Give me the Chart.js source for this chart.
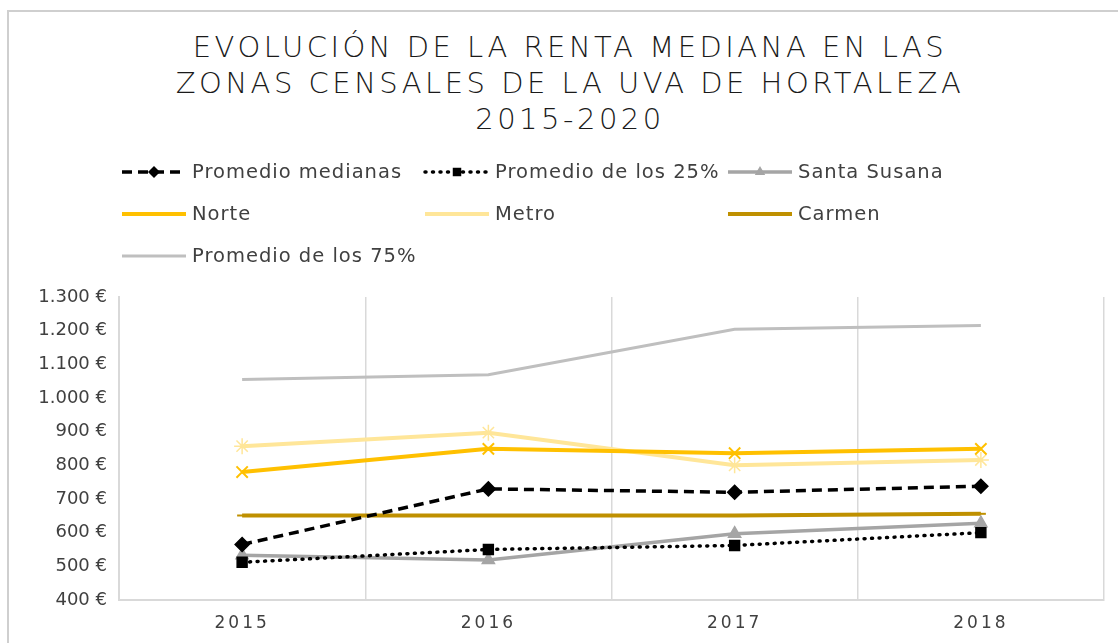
<!DOCTYPE html>
<html>
<head>
<meta charset="utf-8">
<script src="https://cdn.jsdelivr.net/npm/chart.js@4/dist/chart.umd.min.js"></script>
<style>
  html, body { margin: 0; padding: 0; background: #fff; }
  #wrap { position: relative; width: 1118px; height: 643px; overflow: hidden; }
  #frame { position: absolute; left: 7px; top: 10px; width: 1200px; height: 700px; border-left: 2px solid #cfcfcf; border-top: 2px solid #cfcfcf; }
  #title {
    position: absolute; left: 11px; top: 29px; width: 1118px; text-align: center;
    font-family: 'DejaVu Sans', sans-serif; font-weight: 200; font-size: 29px;
    letter-spacing: 3.5px; line-height: 36px; color: #1a1a1a;
  }
  canvas { position: absolute; left: 0; top: 0; }
</style>
</head>
<body>
<div id="wrap">
  <div id="frame"></div>
  <div id="title">EVOLUCIÓN DE LA RENTA MEDIANA EN LAS<br>ZONAS CENSALES DE LA UVA DE HORTALEZA<br>2015-2020</div>
  <canvas id="renta" width="1118" height="643"></canvas>
</div>
<script>
const years = ['2015', '2016', '2017', '2018'];

const promedioMedianas = [565, 730, 720, 738];
const promedio25 = [512, 550, 562, 600];
const santaSusana = [533, 519, 597, 628];
const norte = [780, 849, 836, 849];
const metro = [857, 897, 800, 816];
const carmen = [651, 651, 651, 656];
const promedio75 = [1055, 1069, 1204, 1215];

const seriesNames = ['Promedio medianas', 'Promedio de los 25%', 'Santa Susana', 'Norte', 'Metro', 'Carmen', 'Promedio de los 75%'];

const yMin = 400, yMax = 1300, yStep = 100;

const FONT = "'DejaVu Sans', sans-serif";

// 1300 -> "1.300 €"
const euro = (v) => String(v).replace(/\B(?=(\d{3})+(?!\d))/g, '.') + ' €';

// legend in 3 fixed columns, like the excel one
const gridLegend = {
  id: 'gridLegend',
  afterDraw(chart) {
    const ctx = chart.ctx;
    const x0 = 122, colW = 303, y0 = 172, rowH = 42, lineW = 64;
    chart.data.datasets.forEach((ds, i) => {
      const x = x0 + (i % 3) * colW;
      const y = y0 + Math.floor(i / 3) * rowH;
      ctx.save();
      ctx.strokeStyle = ds.borderColor;
      ctx.lineWidth = ds.borderWidth;
      ctx.lineCap = ds.borderCapStyle || 'butt';
      ctx.setLineDash(ds.borderDash || []);
      ctx.beginPath();
      ctx.moveTo(x, y);
      ctx.lineTo(x + lineW, y);
      ctx.stroke();
      ctx.setLineDash([]);
      if (ds.pointRadius > 0) {
        ctx.fillStyle = ds.pointBackgroundColor;
        ctx.strokeStyle = ds.pointBorderColor;
        ctx.lineWidth = ds.pointBorderWidth;
        Chart.helpers.drawPoint(ctx, { pointStyle: ds.pointStyle, radius: ds.pointRadius - 1, rotation: 0 }, x + lineW / 2, y);
      }
      ctx.fillStyle = '#404040';
      ctx.font = '19.5px ' + FONT;
      ctx.letterSpacing = '1px';
      ctx.textBaseline = 'middle';
      ctx.fillText(ds.label, x + 70, y + 1);
      ctx.restore();
    });
  }
};

const mk = (i, data, color, width, extra) => Object.assign({
  label: seriesNames[i],
  data: data,
  borderColor: color,
  backgroundColor: color,
  pointBackgroundColor: color,
  pointBorderColor: color,
  borderWidth: width,
  pointBorderWidth: 1.5,
  tension: 0,
}, extra);

const chart = new Chart(document.getElementById('renta'), {
  type: 'line',
  data: {
    labels: years,
    datasets: [
      mk(0, promedioMedianas, '#000000', 3.5, { borderDash: [10, 6], pointStyle: 'rectRot', pointRadius: 7 }),
      mk(1, promedio25, '#000000', 3.5, { borderDash: [1, 6.5], borderCapStyle: 'round', pointStyle: 'rect', pointRadius: 7 }),
      mk(2, santaSusana, '#a5a5a5', 3.5, { pointStyle: 'triangle', pointRadius: 7 }),
      mk(3, norte, '#ffc000', 4, { pointStyle: 'crossRot', pointRadius: 8, pointBorderWidth: 2 }),
      mk(4, metro, '#ffe699', 4, { pointStyle: 'star', pointRadius: 8, pointBorderWidth: 1.5 }),
      mk(5, carmen, '#bf9000', 4, { pointStyle: 'line', pointRadius: 5, pointBorderWidth: 2 }),
      mk(6, promedio75, '#bfbfbf', 3, { pointRadius: 0 }),
    ]
  },
  options: {
    responsive: false,
    animation: false,
    layout: { padding: { top: 297, right: 14, bottom: 0, left: 0 } },
    plugins: {
      legend: { display: false },
      title: { display: false },
      tooltip: { enabled: false },
    },
    scales: {
      x: {
        offset: true,
        grid: { display: true, offset: true, color: '#d9d9d9', lineWidth: 1.5, drawTicks: false },
        border: { display: true, color: '#d9d9d9', width: 2 },
        ticks: { color: '#404040', padding: 13, font: { size: 17, family: FONT } },
        afterFit: (s) => { s.height = 43; },
      },
      y: {
        min: yMin,
        max: yMax,
        grid: { display: false, drawTicks: false },
        border: { display: true, color: '#d9d9d9', width: 2 },
        ticks: {
          stepSize: yStep,
          color: '#404040',
          padding: 12,
          font: { size: 18, family: FONT },
          callback: (v) => euro(v),
        },
        afterFit: (s) => { s.width = 119; },
      }
    }
  },
  plugins: [gridLegend]
});

// year labels are letter-spaced in the original
const xScale = chart.scales.x;
const drawLabels = xScale.drawLabels.bind(xScale);
xScale.drawLabels = (area) => {
  chart.ctx.save();
  chart.ctx.letterSpacing = '3px';
  drawLabels(area);
  chart.ctx.restore();
};
chart.draw();
</script>
</body>
</html>
